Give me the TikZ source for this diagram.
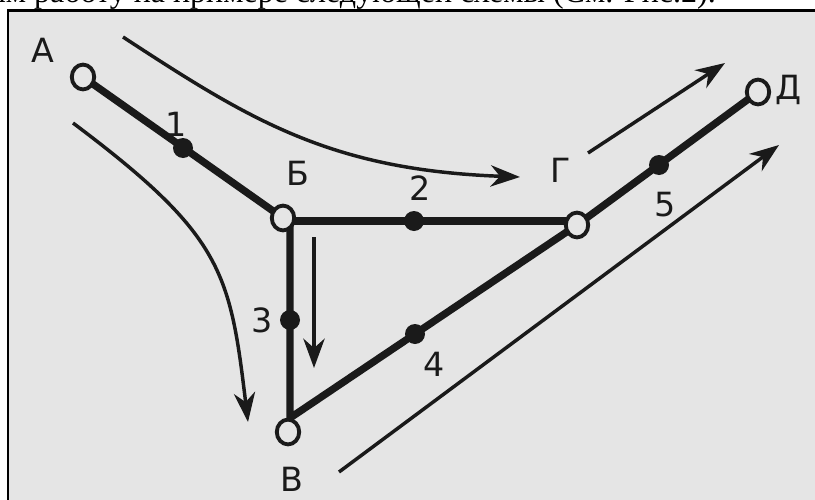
\documentclass[tikz,border=0pt]{standalone}
\usepackage{fontspec}
\setmainfont{DejaVu Sans}
\newfontfamily\serifru{Liberation Serif}
\usetikzlibrary{arrows.meta,shapes.geometric,calc}
\definecolor{panel}{HTML}{E5E5E5}
\definecolor{ink}{HTML}{1A1A1A}
\pgfdeclarelayer{bg}
\pgfdeclarelayer{wires}
\pgfsetlayers{bg,wires,main}
\begin{document}
\begin{tikzpicture}[x=0.75pt,y=-0.75pt,
  terminal/.style={ellipse,draw=ink,line width=2.9pt,fill=panel,inner sep=0pt,minimum width=16.8pt,minimum height=18.6pt},
  junction/.style={circle,fill=ink,inner sep=0pt,minimum size=15pt},
  wire/.style={draw=ink,line width=5.5pt},
  flow/.style={draw=ink,line width=2.6pt,-{Stealth[length=22pt,width=16pt,inset=7pt]}},
  lbl/.style={font=\fontsize{25}{30}\selectfont,text=ink,inner sep=0pt}]
\clip (0,0) rectangle (815,500);
\begin{pgfonlayer}{bg}
\fill[white] (0,0) rectangle (815,500);
\fill[panel] (8,10.7) rectangle (815,500);
\draw[black,line width=1.9pt] (8.2,500) -- (8.2,10.7) -- (815,10.7);
\end{pgfonlayer}
\node[anchor=base east,font=\serifru\fontsize{24}{28}\selectfont,inner sep=0pt] (caption) at (716,2.5) {Рассмотрим работу на примере следующей схемы (См. Рис.2).};
% terminals
\node[terminal] (A) at (83,77) {};
\node[terminal] (B) at (283,218) {};
\node[terminal] (G) at (577,225) {};
\node[terminal] (D) at (758,92) {};
\node[terminal] (V) at (288,432) {};
\coordinate (J) at (290,418);
% wires
\begin{pgfonlayer}{wires}
\draw[wire] (A.center) -- (B.center);
\draw[wire] ($(B.center)+(0,3)$) -- ($(B.center -| G.center)+(0,3)$);
\draw[wire,line join=round] (J |- B.center) -- (J) -- (G.center);
\draw[wire] (G.center) -- (D.center);
\end{pgfonlayer}
% junction dots
\node[junction] (d1) at (183,148) {};
\node[junction] (d2) at (414,221) {};
\node[junction] (d3) at (290,320) {};
\node[junction] (d4) at (415,334) {};
\node[junction] (d5) at (659,165) {};
% labels
\node[lbl] (lA) at (43,50) {А};
\node[lbl] (l1) at (176,124) {1};
\node[lbl] (lB) at (298,173) {Б};
\node[lbl] (l2) at (420,188) {2};
\node[lbl] (lG) at (561,170) {Г};
\node[lbl] (l5) at (665,205) {5};
\node[lbl] (lD) at (789,90) {Д};
\node[lbl] (l3) at (262,320) {3};
\node[lbl] (l4) at (434,364) {4};
\node[lbl] (lV) at (292,479) {В};
% flow arrows
\coordinate (f1s) at (123,37);
\coordinate (f1e) at (520,177);
\coordinate (f2s) at (73,123);
\coordinate (f2e) at (248,422);
\coordinate (f3s) at (314,237);
\coordinate (f3e) at (314,368);
\coordinate (f4s) at (588,153);
\coordinate (f4e) at (725,63);
\coordinate (f5s) at (339,472);
\coordinate (f5e) at (779,145);
\draw[flow] (f1s) .. controls (250,120) and (330,170) .. (f1e);
\draw[flow] (f2s) .. controls (223,235.5) and (230,272) .. (f2e);
\draw[flow] (f3s) -- (f3e);
\draw[flow] (f4s) -- (f4e);
\draw[flow] (f5s) -- (f5e);
\end{tikzpicture}
\end{document}
